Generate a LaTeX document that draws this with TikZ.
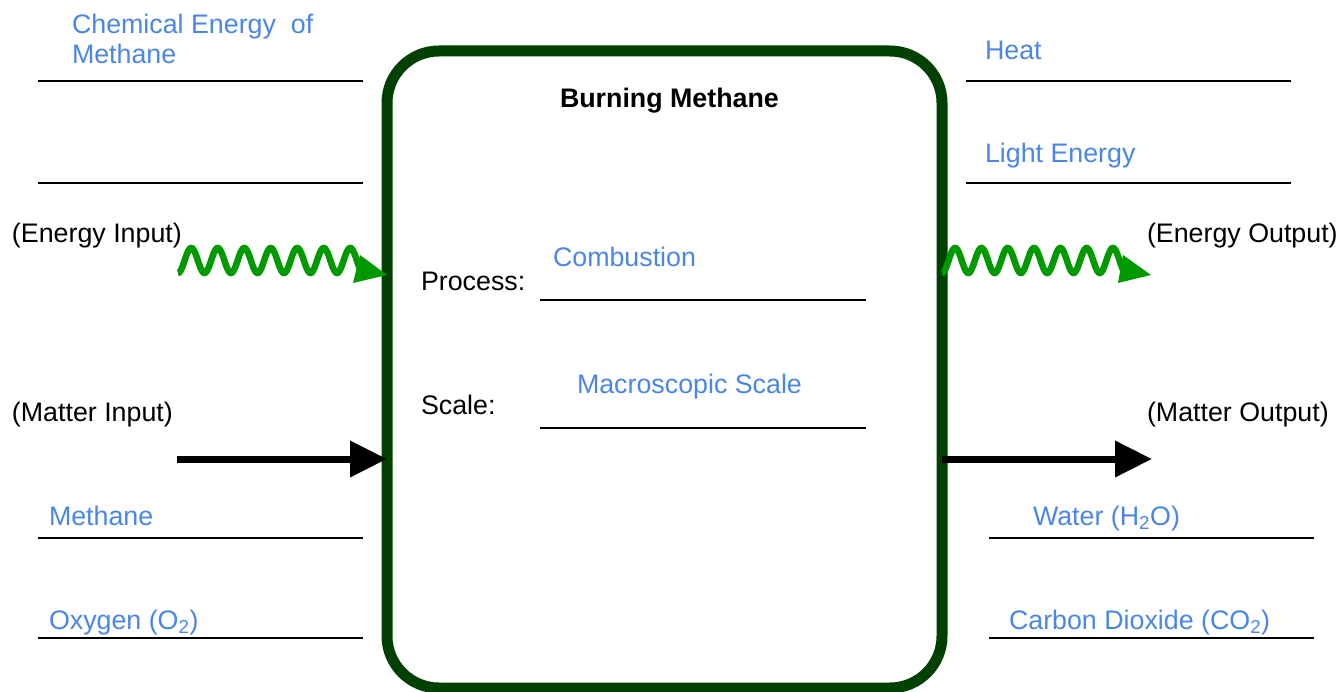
\documentclass[tikz,border=0pt]{standalone}
\usepackage{fontspec}
\setmainfont{Liberation Sans}
\usetikzlibrary{arrows.meta}
\definecolor{txtblue}{HTML}{4A86E8}
\definecolor{boxgreen}{HTML}{004000}
\definecolor{wavegreen}{HTML}{009900}
\begin{document}
\begin{tikzpicture}[x=1pt,y=-1pt,
  lbl/.style={anchor=base west, inner sep=0pt, outer sep=0pt, font=\fontsize{26.8}{30}\selectfont},
  ans/.style={lbl, text=txtblue},
  blankline/.style={line width=2pt},
  matterarrow/.style={line width=7pt, -{Triangle[length=37pt,width=35pt]}},
  wave/.style={wavegreen, line width=6.5pt},
  wavehead/.style={fill=wavegreen},
  procbox/.style={draw=boxgreen, line width=11pt, rounded corners=52pt, outer sep=0pt, inner sep=0pt, minimum width=555pt, minimum height=637pt}]
\useasboundingbox (0,0) rectangle (1341,692);

% process box
\node[procbox] (box) at (664.5,369.5) {};
\node[lbl, font=\fontsize{26.8}{30}\selectfont\bfseries] (title) at (560,108) {Burning Methane};

% left blanks
\draw[blankline] (38,81) -- (363,81);
\draw[blankline] (38,183) -- (363,183);
\draw[blankline] (38,538) -- (363,538);
\draw[blankline] (38,638) -- (363,638);
% right blanks
\draw[blankline] (966,81) -- (1291,81);
\draw[blankline] (966,183) -- (1291,183);
\draw[blankline] (989,538) -- (1314,538);
\draw[blankline] (989,638) -- (1314,638);
% inner blanks
\draw[blankline] (540,300) -- (866,300);
\draw[blankline] (540,428) -- (866,428);

% answers
\node[ans] (chem1) at (72,34) {Chemical Energy\ \ of};
\node[ans] (chem2) at (72,64) {Methane};
\node[ans] (heat) at (985,60) {Heat};
\node[ans] (light) at (985,163) {Light Energy};
\node[ans] (comb) at (553,267) {Combustion};
\node[ans] (macro) at (577,394) {Macroscopic Scale};
\node[ans] (meth) at (49,525) {Methane};
\node[ans] (oxy) at (49,629) {Oxygen (O\textsubscript{2})};
\node[ans] (water) at (1033,525) {Water (H\textsubscript{2}O)};
\node[ans] (co2) at (1009,629) {Carbon Dioxide (CO\textsubscript{2})};

% labels
\node[lbl] (ein) at (12,243) {(Energy Input)};
\node[lbl] (eout) at (1147,243) {(Energy Output)};
\node[lbl] (min) at (12,421) {(Matter Input)};
\node[lbl] (mout) at (1147,421) {(Matter Output)};
\node[lbl] (proc) at (421,291) {Process:};
\node[lbl] (scale) at (421,414) {Scale:};

% matter arrows
\coordinate (mstart) at (177,459);
\coordinate (mend) at (1152,459);
\draw[matterarrow] (mstart) -- (box.west |- mstart);
\draw[matterarrow] (box.east |- mend) -- (mend);

% energy waves
\draw[wave] plot[domain=0:7, samples=281, smooth] ({178+26.5*\x},{260.5+12.5*cos(360*\x)});
\fill[wavehead] (360,255) -- (353,283) -- (box.west |- 0,275) -- cycle;
\draw[wave] plot[domain=0:7, samples=281, smooth] ({942+26.3*\x},{260.5+12.5*cos(360*\x)});
\coordinate (etip) at (1151,275);
\fill[wavehead] (1123,255) -- (1118,283) -- (etip) -- cycle;
\end{tikzpicture}
\end{document}
